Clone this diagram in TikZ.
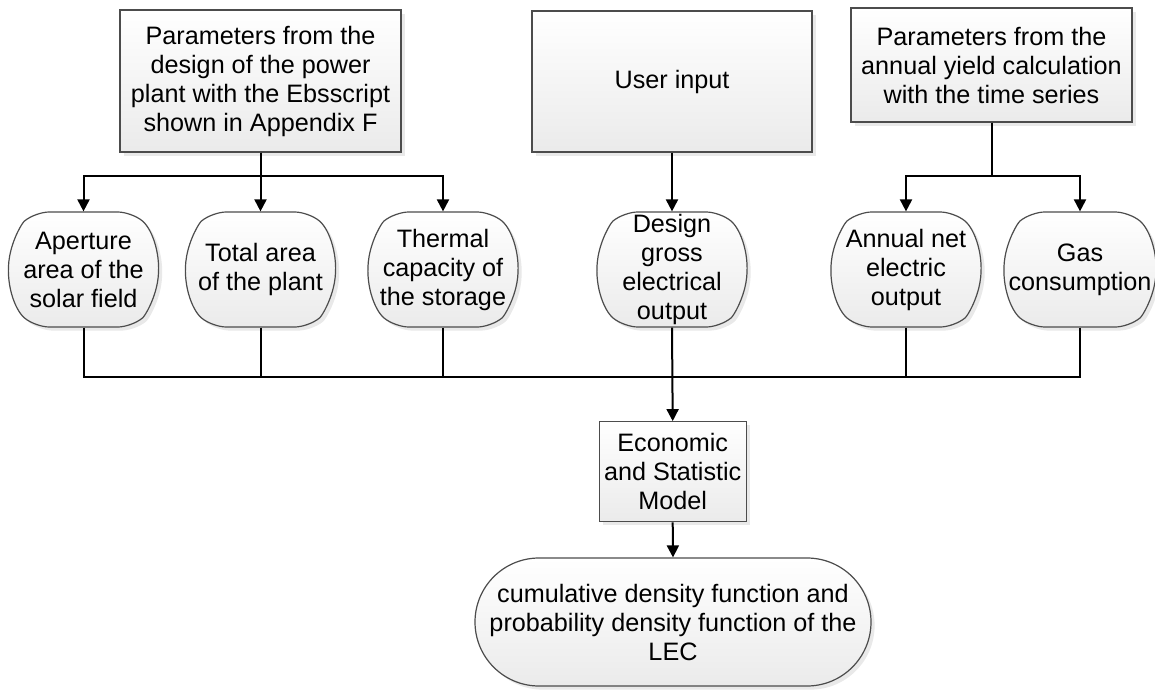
\documentclass[tikz,border=0pt]{standalone}
\usepackage{fontspec}
\setmainfont{Liberation Sans}
\usetikzlibrary{shapes.misc,shadows,arrows.meta}
\begin{document}
\begin{tikzpicture}[x=0.5pt,y=-0.5pt,
  font=\fontsize{12.6}{14.5}\selectfont,
  boxbase/.style={draw=black!70, line width=0.6pt, top color=white, bottom color=black!8,
    align=center, inner sep=0pt,
    drop shadow={shadow xshift=1.8pt, shadow yshift=-1.8pt, fill=black!25, opacity=0.35}},
  srcbox/.style={boxbase, rectangle},
  roundbox/.style={boxbase, rounded rectangle, rounded rectangle arc length=100,
    rounded corners=7pt, minimum width=73.5pt, minimum height=57.5pt},
  link/.style={line width=1pt, draw=black},
  arrow/.style={link, -{Triangle[length=6pt,width=6pt]}}
]
\useasboundingbox (0,0) rectangle (1155,695);

% data sources
\node[srcbox, minimum width=140.5pt, minimum height=71pt] (p1) at (260.5,81)
  {Parameters from the\\design of the power\\plant with the Ebsscript\\shown in Appendix F};
\node[srcbox, minimum width=140pt, minimum height=70.5pt] (ui) at (672,81.5) {User input};
\node[srcbox, minimum width=140.5pt, minimum height=57pt] (p2) at (991.5,65)
  {Parameters from the\\annual yield calculation\\with the time series};

% model inputs
\node[roundbox] (ap) at (83.5,269.5) {Aperture\\area of the\\solar field};
\node[roundbox] (ta) at (260.5,269.5) {Total area\\of the plant};
\node[roundbox] (th) at (443,269.5) {Thermal\\capacity of\\the storage};
\node[roundbox] (dg) at (672,269.5) {Design\\gross\\electrical\\output};
\node[roundbox] (an) at (906,269.5) {Annual net\\electric\\output};
\node[roundbox] (gc) at (1080,269.5) {Gas\\consumption};

% model and result
\node[srcbox, minimum width=73.5pt, minimum height=50pt] (ec) at (672.7,471.7)
  {Economic\\and Statistic\\Model};
\node[boxbase, rounded rectangle, minimum width=198pt, minimum height=64pt] (res) at (673,622)
  {cumulative density function and\\probability density function of the\\LEC};

% distribution from the sources
\draw[arrow] (p1.south) -- ++(0,23) -| (ap.north);
\draw[arrow] (p1.south) -- (ta.north);
\draw[arrow] (p1.south) -- ++(0,23) -| (th.north);
\draw[arrow] (ui.south) -- (dg.north);
\draw[arrow] (p2.south) -- ++(0,53) -| (an.north);
\draw[arrow] (p2.south) -- ++(0,53) -| (gc.north);

% collector bus into the model
\coordinate (bus) at (672,377);
\draw[link] (ap.south) |- (bus);
\draw[link] (ta.south) |- (bus);
\draw[link] (th.south) |- (bus);
\draw[link] (an.south) |- (bus);
\draw[link] (gc.south) |- (bus);
\draw[arrow] (dg.south) -- (ec.north);
\draw[arrow] (ec.south) -- (res.north);
\end{tikzpicture}
\end{document}
